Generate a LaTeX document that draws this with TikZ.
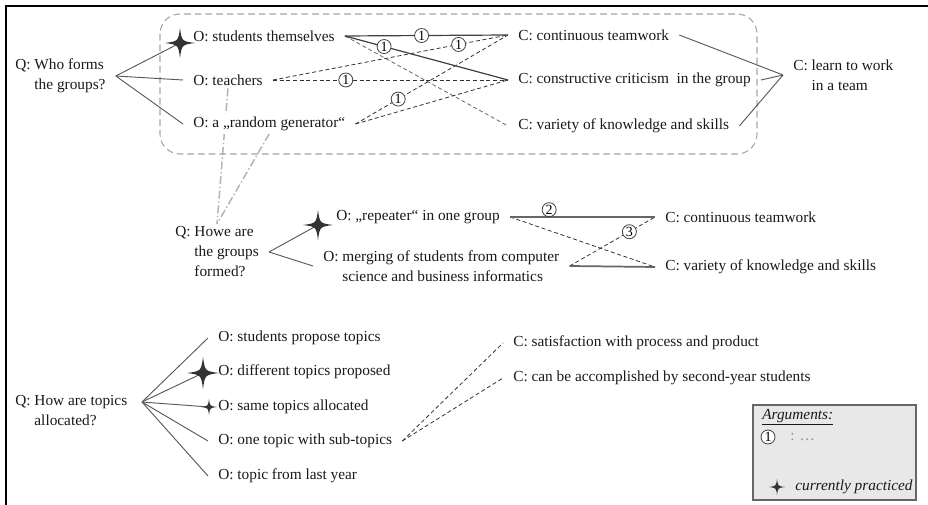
\documentclass[tikz,border=0pt]{standalone}
\usepackage{fontspec}
\setmainfont{Liberation Serif}
\newfontfamily\diagfont{Liberation Serif}
\usetikzlibrary{backgrounds}

\tikzset{
  pics/sparkle/.style={code={
    \fill[black!80] (0,-#1) .. controls (0.12*#1,-0.12*#1) .. (#1,0)
      .. controls (0.12*#1,0.12*#1) .. (0,#1)
      .. controls (-0.12*#1,0.12*#1) .. (-#1,0)
      .. controls (-0.12*#1,-0.12*#1) .. cycle;}}
}

\begin{document}
\begin{tikzpicture}
		[x=0.75pt, y=-0.75pt,
		every node/.style={inner xsep=7.5pt, inner ysep=2pt, anchor=west, text=black!90, font=\diagfont\fontsize{11.5}{15}\selectfont},
		num/.style={circle, solid, draw=black!75, line width=0.6pt, fill=white, text=black, anchor=center, inner sep=0.2pt, minimum size=10.5pt, font=\diagfont\fontsize{10.5}{10}\selectfont},
		fan/.style={black!65, line width=0.7pt},
		arg/.style={black!75, line width=0.9pt},
		dasharg/.style={black!80, line width=0.6pt, dash pattern=on 3pt off 2pt},
		thickarg/.style={black!60, line width=1.3pt},
		groupbox/.style={black!35, line width=0.8pt, dash pattern=on 5pt off 3pt, rounded corners=15pt},
		callout/.style={black!30, line width=1.1pt, dash pattern=on 6pt off 2pt on 1pt off 2pt}]
		\useasboundingbox (0,0) rectangle (928,505);
		\draw[line width=1.6pt] (6,505) -- (6,6) -- (928,6);
		
		% who forms the groups
		\draw[groupbox] (160,14) rectangle (757,154);
		\node[align=left] (who) at (5,76) {Q: Who forms\\\hphantom{Q: }the groups?};
		\node (students) at (183,36) {O: students themselves};
		\node (teachers) at (183,80) {O: teachers};
		\node[fill=white] (random) at (183,124) {O: a „random generator“};
		\node (cont) at (508,35) {C: continuous teamwork};
		\node (crit) at (508,80) {C: constructive criticism\ \ in the group};
		\node (variety) at (508,126) {C: variety of knowledge and skills};
		\node[align=left] (learn) at (783,75) {C: learn to work\\\hphantom{C: }in a team};
		\coordinate (star-students) at (180,43);
		
		\path (who.east) edge[fan] (star-students) edge[fan] (teachers.west) edge[fan] (random.west);
		\path (learn.west) edge[fan] (cont.east) edge[fan] (crit.east) edge[fan] (variety.east);
		\path (students.east) edge[dasharg, black!60] (variety.west);
		\path (teachers.east) edge[dasharg] node[num, pos=0.79] {1} (cont.west)
			edge[dasharg] node[num, pos=0.31] {1} (crit.west);
		\path (random.east) edge[dasharg] node[num, pos=0.28] {1} (cont.west)
			edge[dasharg] (crit.west);
		\path (students.east) edge[arg] node[num, pos=0.47] {1} (cont.west)
			edge[arg] node[num, pos=0.24] {1} (crit.west);
		\pic at (star-students) {sparkle=15};
		
		% how are the groups formed
		\node[align=left] (howe) at (165,252) {Q: Howe are\\\hphantom{Q: }the groups\\\hphantom{Q: }formed?};
		\node (repeater) at (326,217) {O: „repeater“ in one group};
		\node[align=left] (merging) at (313,266) {O: merging of students from computer\\\hphantom{O: }science and business informatics};
		\node (cont2) at (655,217) {C: continuous teamwork};
		\node (variety2) at (655,267) {C: variety of knowledge and skills};
		\coordinate (star-repeater) at (318,225);
		
		\begin{scope}[on background layer]
		\draw[callout] (teachers.south) -- (howe.north);
		\draw[callout] (random.south) -- (howe.north);
		\end{scope}
		\path (howe.east) edge[fan] (star-repeater) edge[fan] (merging.west);
		\path (repeater.east) edge[dasharg] (variety2.west);
		\path (merging.east) edge[dasharg] node[num, pos=0.7] {3} (cont2.west);
		\path (repeater.east) edge[thickarg] node[num, pos=0.27, yshift=5.5pt] {2} (cont2.west);
		\path (merging.east) edge[thickarg] (variety2.west);
		\pic at (star-repeater) {sparkle=15};
		
		% how are topics allocated
		\node[align=left] (topics) at (5,411) {Q: How are topics\\\hphantom{Q: }allocated?};
		\coordinate (topics-fan) at (142,402);
		\node (propose) at (208,338) {O: students propose topics};
		\node (different) at (208,372) {O: different topics proposed};
		\node (same) at (208,407) {O: same topics allocated};
		\node (subtopics) at (208,441) {O: one topic with sub-topics};
		\node (lastyear) at (208,476) {O: topic from last year};
		\node (satisfaction) at (503,343) {C: satisfaction with process and product};
		\node (secondyear) at (503,378) {C: can be accomplished by second-year students};
		\coordinate (star-different) at (203,373);
		\coordinate (star-same) at (209,407);
		
		\path (topics-fan) edge[fan] (propose.west) edge[fan] (star-different) edge[fan] (star-same)
			edge[fan] (subtopics.west) edge[fan] (lastyear.west);
		\path (subtopics.east) edge[dasharg] (satisfaction.west) edge[dasharg] (secondyear.west);
		\pic at (star-different) {sparkle=16};
		\pic at (star-same) {sparkle=8};
		
		% legend
		\filldraw[fill=black!9, draw=black!60, line width=1pt] (753,405) rectangle (916,500);
		\node (legend-title) at (752,417) {\underline{\textit{Arguments:}}};
		\node[num] (legend-num) at (768,437) {1};
		\node[text=black!45] (legend-dots) at (780,437) {: \dots};
		\coordinate (legend-star) at (777,487);
		\pic at (legend-star) {sparkle=8};
		\node (legend-text) at (785,487) {\textit{currently practiced}};
		\end{tikzpicture}
\end{document}
